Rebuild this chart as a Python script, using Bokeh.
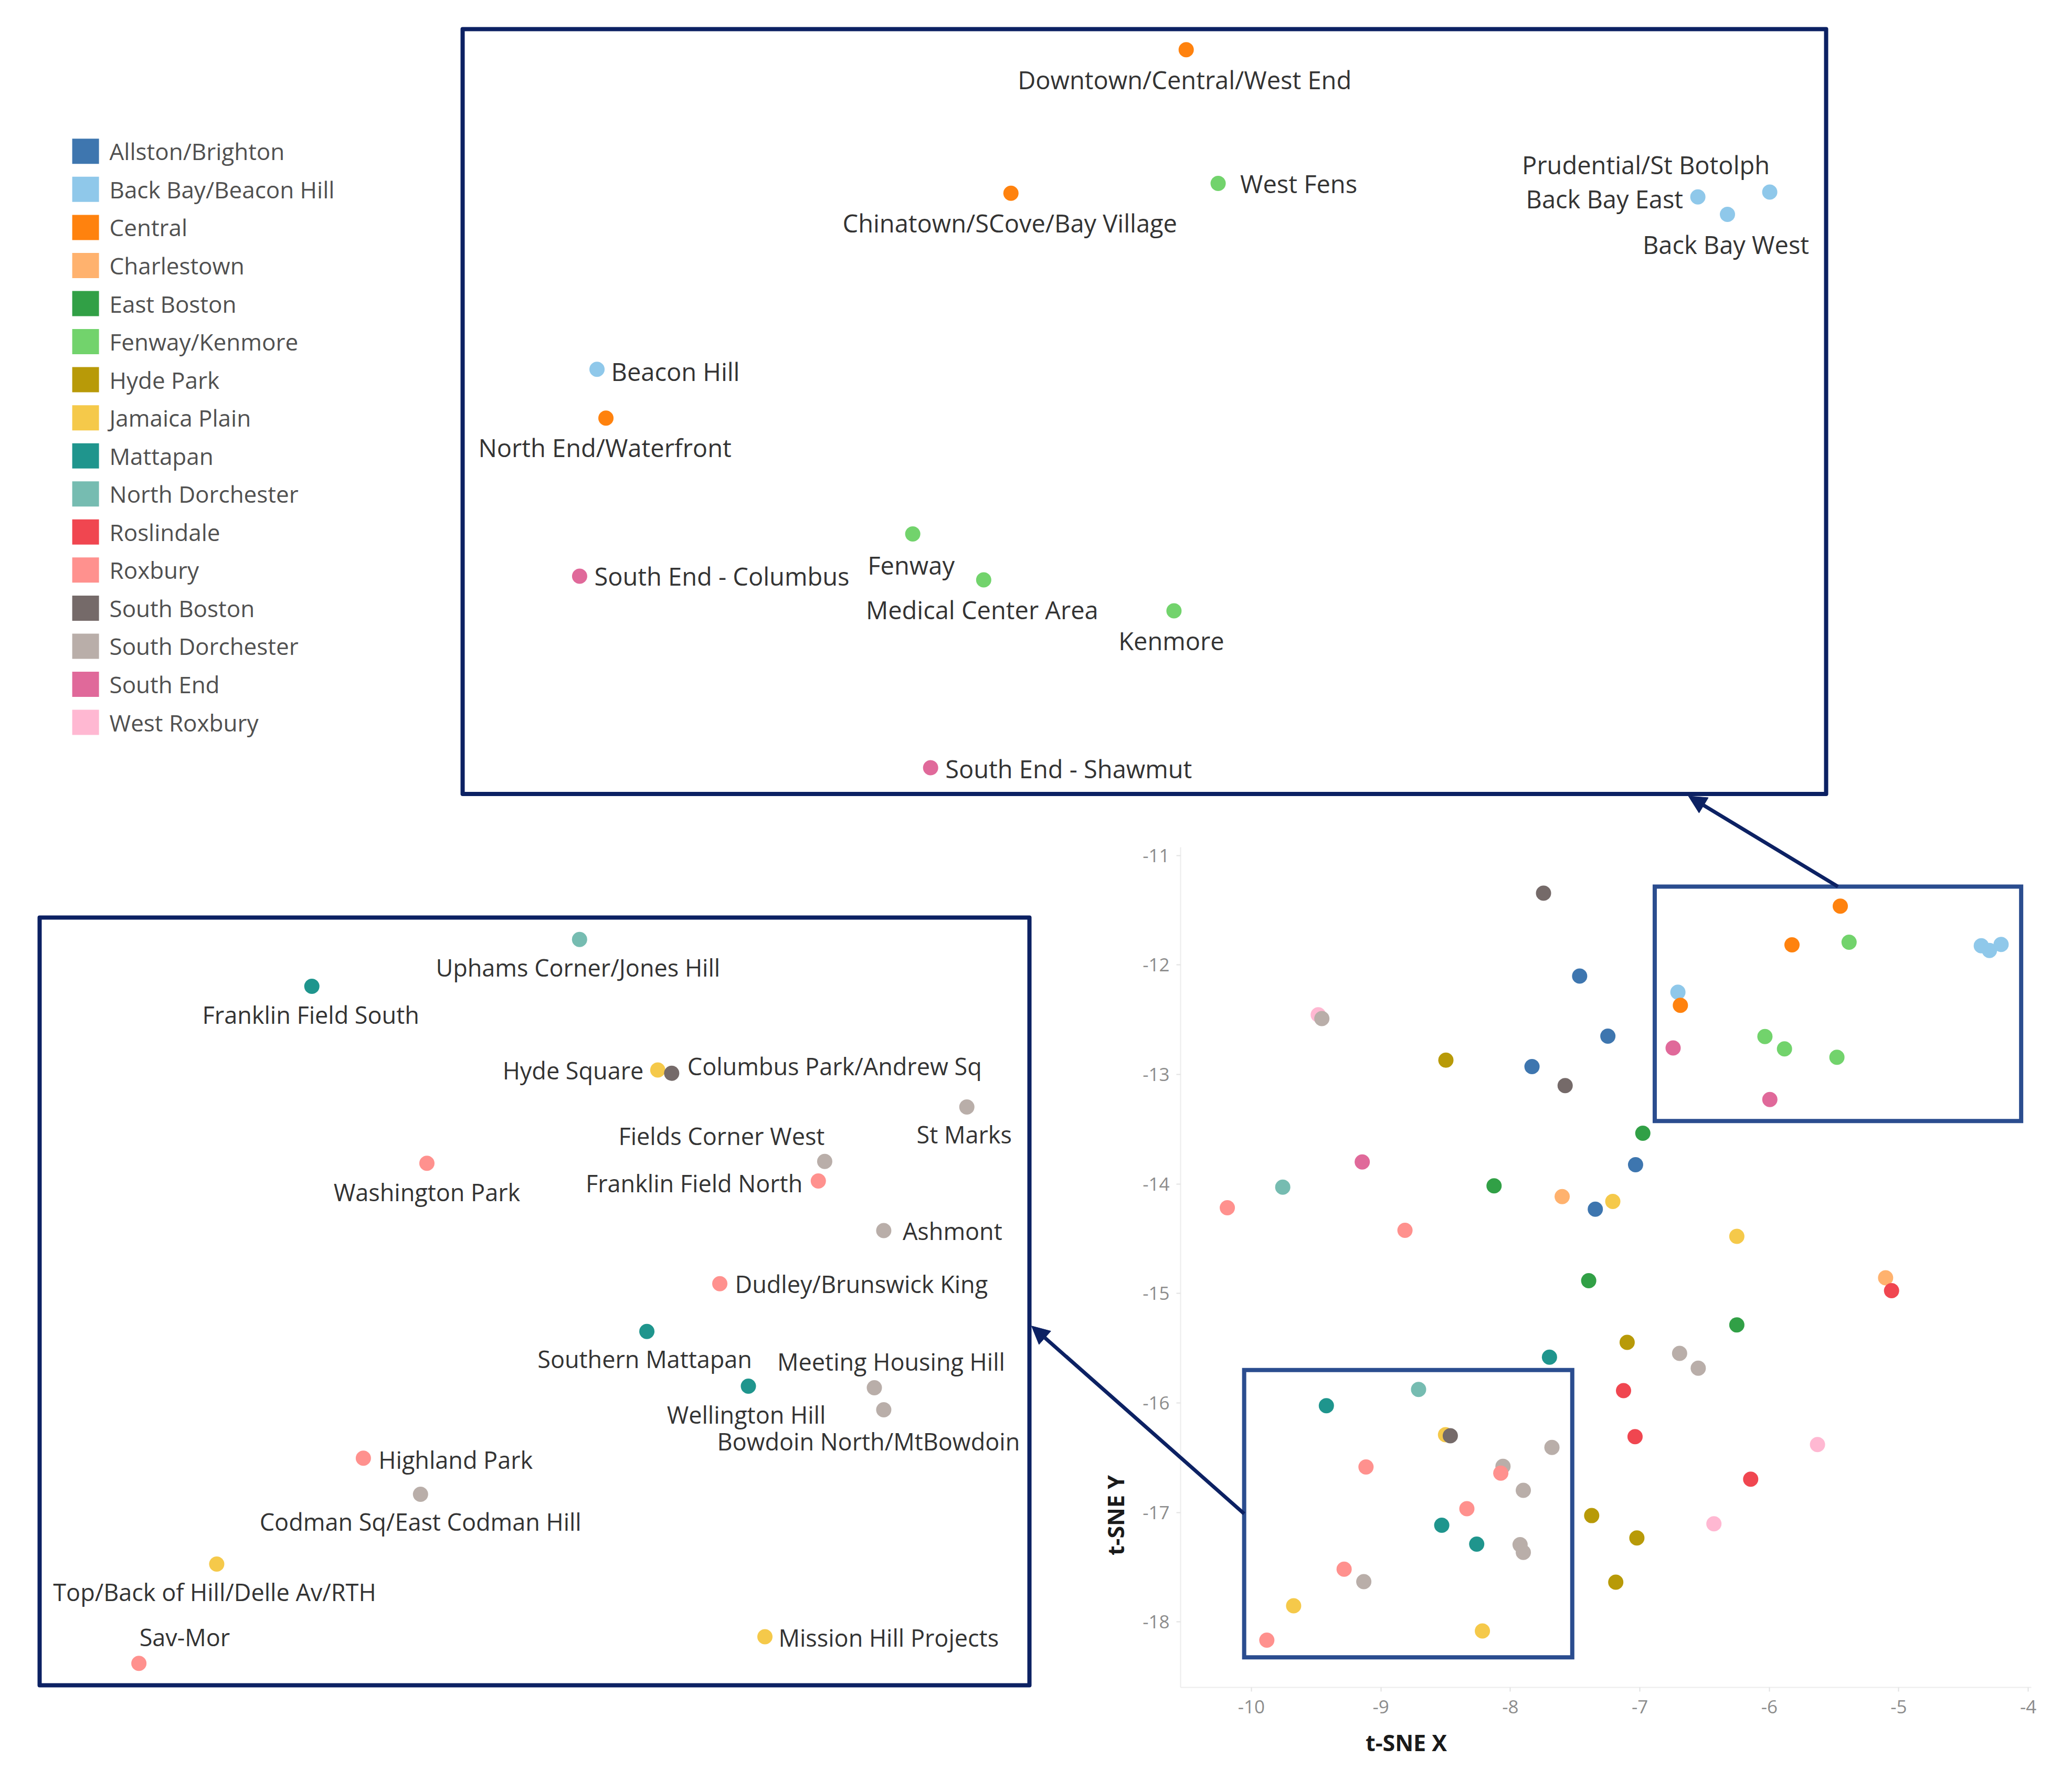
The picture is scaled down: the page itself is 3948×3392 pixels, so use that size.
import math
from bokeh.plotting import figure
from bokeh.models import (ColumnDataSource, Range1d, LinearAxis, FixedTicker,
                          Label, Arrow, NormalHead)
from bokeh.core.properties import value
from bokeh.embed import file_html
from bokeh.resources import INLINE

# ---------------- data ----------------
NEIGHBORHOODS = ["Allston/Brighton", "Back Bay/Beacon Hill", "Central", "Charlestown",
                 "East Boston", "Fenway/Kenmore", "Hyde Park", "Jamaica Plain", "Mattapan",
                 "North Dorchester", "Roslindale", "Roxbury", "South Boston",
                 "South Dorchester", "South End", "West Roxbury"]
PALETTE = ["#3e76af", "#8fc8ea", "#ff820e", "#ffb26e", "#31a046", "#72d36c", "#b89a08",
           "#f5c94a", "#1f958d", "#76bcb1", "#f04650", "#ff918e", "#756a69", "#b9aea9",
           "#e0699a", "#ffb8d2"]

PT_AREA = [
    "South Boston", "Central", "Central", "Fenway/Kenmore", "Back Bay/Beacon Hill",
    "Back Bay/Beacon Hill", "Back Bay/Beacon Hill", "Allston/Brighton", "Back Bay/Beacon Hill", "Central",
    "West Roxbury", "South Dorchester", "Allston/Brighton", "Fenway/Kenmore", "South End",
    "Fenway/Kenmore", "Hyde Park", "Allston/Brighton", "Fenway/Kenmore", "South Boston",
    "South End", "East Boston", "South End", "Allston/Brighton", "North Dorchester",
    "East Boston", "Roxbury", "Charlestown", "Jamaica Plain", "Allston/Brighton",
    "Roxbury", "Jamaica Plain", "East Boston", "Charlestown", "Roslindale",
    "East Boston", "Hyde Park", "South Dorchester", "South Dorchester", "Mattapan",
    "Roslindale", "North Dorchester", "Mattapan", "Roslindale", "Jamaica Plain",
    "South Boston", "West Roxbury", "South Dorchester", "Roxbury", "South Dorchester",
    "Roxbury", "Roslindale", "South Dorchester", "Roxbury", "Hyde Park",
    "Mattapan", "West Roxbury", "Hyde Park", "Mattapan", "South Dorchester",
    "South Dorchester", "Roxbury", "South Dorchester", "Hyde Park", "Jamaica Plain",
    "Jamaica Plain", "Roxbury"]

PT_X = [-7.744, -5.452, -5.825, -5.384, -4.363, -4.300, -4.210, -7.465, -6.706, -6.687,
        -9.484, -9.456, -7.247, -6.034, -6.743, -5.883, -8.498, -7.833, -5.478, -7.577,
        -5.996, -6.977, -9.144, -7.033, -9.758, -8.126, -10.186, -7.600, -7.209, -7.344,
        -8.814, -6.251, -7.395, -5.102, -5.056, -6.251, -7.098, -6.693, -6.549, -7.698,
        -7.126, -8.709, -9.421, -7.037, -8.501, -8.464, -5.628, -7.679, -9.115, -8.057,
        -8.074, -6.144, -7.900, -8.336, -7.372, -8.530, -6.428, -7.023, -8.260, -7.925,
        -7.900, -9.284, -9.132, -7.186, -9.674, -8.216, -9.881]

PT_Y = [-11.344, -11.463, -11.816, -11.792, -11.825, -11.868, -11.813, -12.102, -12.249, -12.369,
        -12.455, -12.490, -12.650, -12.654, -12.758, -12.767, -12.870, -12.928, -12.843, -13.102,
        -13.229, -13.537, -13.799, -13.824, -14.030, -14.017, -14.218, -14.116, -14.160, -14.231,
        -14.424, -14.479, -14.884, -14.857, -14.975, -15.288, -15.447, -15.548, -15.683, -15.582,
        -15.888, -15.877, -16.025, -16.308, -16.290, -16.300, -16.380, -16.407, -16.585, -16.579,
        -16.641, -16.697, -16.798, -16.966, -17.029, -17.117, -17.104, -17.233, -17.290, -17.295,
        -17.365, -17.518, -17.632, -17.637, -17.853, -18.083, -18.167]

PT_NAME = [
    "", "Downtown/Central/West End", "Chinatown/SCove/Bay Village", "West Fens", "Back Bay East",
    "Back Bay West", "Prudential/St Botolph", "", "Beacon Hill", "North End/Waterfront",
    "", "", "", "Fenway", "South End - Columbus",
    "Medical Center Area", "", "", "Kenmore", "",
    "South End - Shawmut", "", "", "", "",
    "", "", "", "", "",
    "", "", "", "", "",
    "", "", "", "", "",
    "", "Uphams Corner/Jones Hill", "Franklin Field South", "", "Hyde Square",
    "Columbus Park/Andrew Sq", "", "St Marks", "Washington Park", "Fields Corner West",
    "Franklin Field North", "", "Ashmont", "Dudley/Brunswick King", "",
    "Southern Mattapan", "", "", "Wellington Hill", "Meeting Housing Hill",
    "Bowdoin North/MtBowdoin", "Highland Park", "Codman Sq/East Codman Hill", "", "Top/Back of Hill/Delle Av/RTH",
    "Mission Hill Projects", "Sav-Mor"]

X_TICKS = [-10, -9, -8, -7, -6, -5, -4]
Y_TICKS = [-18, -17, -16, -15, -14, -13, -12, -11]
X_TITLE = "t-SNE X"
Y_TITLE = "t-SNE Y"

# ---------------- layout / style ----------------
PAGE_W, PAGE_H, ORIGIN = 3930, 3376, 0
NAVY = "#0c2163"
ZOOM_BLUE = "#2b4d8f"
FONT = "Open Sans"

# boxes in page pixels (left, top, right, bottom); views in data (left, right, bottom, top)
MAIN_BOX = (2249, 1614, 3870, 3215)
MAIN_VIEW = (-10.547, -3.9765, -18.598, -10.925)
TOP_BOX = (881, 55, 3479, 1512.5)
TOP_VIEW = (-6.992, -4.090, -13.2935, -11.4124)
BOT_BOX = (75, 1748, 1961, 3211)
BOT_VIEW = (-10.145, -7.5125, -18.2365, -15.8075)

ZOOM_TOP = (-6.885, -4.055, -13.425, -11.284)
ZOOM_BOT = (-10.056, -7.522, -18.324, -15.700)

LABEL_PLACE = {
    "Downtown/Central/West End": ("center", -3, 57),
    "Chinatown/SCove/Bay Village": ("center", -2, 57),
    "West Fens": ("left", 42, 0),
    "Prudential/St Botolph": ("right", 0, -52),
    "Back Bay East": ("right", -28, 4),
    "Back Bay West": ("center", -3, 57),
    "Beacon Hill": ("left", 27, 4),
    "North End/Waterfront": ("center", -2, 56),
    "Fenway": ("center", -3, 59),
    "South End - Columbus": ("left", 28, 0),
    "Medical Center Area": ("center", -3, 57),
    "Kenmore": ("center", -5, 57),
    "South End - Shawmut": ("left", 28, 2),
    "Uphams Corner/Jones Hill": ("center", -3, 53),
    "Franklin Field South": ("center", -2, 54),
    "Hyde Square": ("right", -27, 0),
    "Columbus Park/Andrew Sq": ("left", 30, -14),
    "St Marks": ("center", -5, 52),
    "Fields Corner West": ("right", 0, -49),
    "Franklin Field North": ("right", -30, 4),
    "Washington Park": ("center", 0, 55),
    "Ashmont": ("left", 36, 0),
    "Dudley/Brunswick King": ("left", 29, 0),
    "Southern Mattapan": ("center", -4, 52),
    "Meeting Housing Hill": ("center", 32, -50),
    "Wellington Hill": ("center", -4, 54),
    "Bowdoin North/MtBowdoin": ("center", -29, 60),
    "Highland Park": ("left", 29, 3),
    "Codman Sq/East Codman Hill": ("center", 0, 52),
    "Top/Back of Hill/Delle Av/RTH": ("center", -4, 53),
    "Sav-Mor": ("left", 1, -50),
    "Mission Hill Projects": ("left", 26, 1),
}

COLOR_OF = dict(zip(NEIGHBORHOODS, PALETTE))


def scales(box, view):
    bl, bt, br, bb = box
    vl, vr, vb, vt = view
    kx = (br - bl) / (vr - vl)
    ky = (bb - bt) / (vt - vb)
    return bl, bt, vl, vt, kx, ky


def make_ranges(box, view):
    bl, bt, vl, vt, kx, ky = scales(box, view)
    xr = Range1d(vl + (ORIGIN - bl) / kx, vl + (ORIGIN + PAGE_W - bl) / kx)
    yr = Range1d(vt - (ORIGIN + PAGE_H - bt) / ky, vt - (ORIGIN - bt) / ky)
    return xr, yr


def to_page(box, view, x, y):
    bl, bt, vl, vt, kx, ky = scales(box, view)
    return bl + (x - vl) * kx, bt + (vt - y) * ky


p = figure(width=PAGE_W, height=PAGE_H,
           x_range=Range1d(ORIGIN, ORIGIN + PAGE_W), y_range=Range1d(ORIGIN + PAGE_H, ORIGIN),
           x_axis_type=None, y_axis_type=None, toolbar_location=None,
           output_backend="svg", min_border=0, outline_line_color=None,
           background_fill_color="white", border_fill_color="white")

mxr, myr = make_ranges(MAIN_BOX, MAIN_VIEW)
txr, tyr = make_ranges(TOP_BOX, TOP_VIEW)
bxr, byr = make_ranges(BOT_BOX, BOT_VIEW)
p.extra_x_ranges = {"mx": mxr, "tx": txr, "bx": bxr}
p.extra_y_ranges = {"my": myr, "ty": tyr, "by": byr}

# ---------------- main scatter axes ----------------
xaxis = LinearAxis(x_range_name="mx", y_range_name="my",
                   fixed_location=MAIN_VIEW[2], bounds=(MAIN_VIEW[0], MAIN_VIEW[1]),
                   ticker=FixedTicker(ticks=X_TICKS, minor_ticks=[]),
                   major_label_overrides={t: str(t) for t in X_TICKS})
yaxis = LinearAxis(x_range_name="mx", y_range_name="my",
                   fixed_location=MAIN_VIEW[0], bounds=(MAIN_VIEW[2], MAIN_VIEW[3]),
                   ticker=FixedTicker(ticks=Y_TICKS, minor_ticks=[]),
                   major_label_overrides={t: str(t) for t in Y_TICKS})
for ax, standoff in ((xaxis, 16), (yaxis, 13)):
    ax.axis_line_color = "#ececec"
    ax.axis_line_width = 2
    ax.major_tick_line_color = "#e2e2e2"
    ax.major_tick_line_width = 2
    ax.major_tick_in = 0
    ax.major_tick_out = 8
    ax.minor_tick_line_color = None
    ax.major_label_text_font = FONT
    ax.major_label_text_font_size = "35px"
    ax.major_label_text_color = "#8c8c8c"
    ax.major_label_standoff = standoff
p.add_layout(xaxis, "below")
p.add_layout(yaxis, "left")

p.add_layout(Label(x=2679, y=3320, text=X_TITLE, text_align="center", text_baseline="middle",
                   text_font=FONT, text_font_size="43px", text_font_style="bold",
                   text_color="#1a1a1a"))
p.add_layout(Label(x=2125, y=2887, text=Y_TITLE, text_align="center", text_baseline="middle",
                   angle=math.pi / 2, text_font=FONT, text_font_size="43px",
                   text_font_style="bold", text_color="#1a1a1a"))

# zoom rectangles on the main plot
for zl, zr, zb, zt in (ZOOM_TOP, ZOOM_BOT):
    p.quad(left=[zl], right=[zr], bottom=[zb], top=[zt], fill_color=None,
           line_color=ZOOM_BLUE, line_width=8, line_join="miter",
           x_range_name="mx", y_range_name="my")

main_src = ColumnDataSource(dict(x=PT_X, y=PT_Y, area=PT_AREA,
                                 color=[COLOR_OF[a] for a in PT_AREA]))
p.scatter("x", "y", source=main_src, size=29, fill_color="color", line_color=None,
          x_range_name="mx", y_range_name="my")


# ---------------- insets ----------------
def draw_inset(view, xn, yn, font_size):
    vl, vr, vb, vt = view
    p.quad(left=[vl], right=[vr], bottom=[vb], top=[vt], fill_color="white",
           line_color=NAVY, line_width=8, line_join="round",
           x_range_name=xn, y_range_name=yn)
    idx = [i for i in range(len(PT_X))
           if PT_NAME[i] and vl < PT_X[i] < vr and vb < PT_Y[i] < vt]
    src = ColumnDataSource(dict(x=[PT_X[i] for i in idx], y=[PT_Y[i] for i in idx],
                                color=[COLOR_OF[PT_AREA[i]] for i in idx]))
    p.scatter("x", "y", source=src, size=29, fill_color="color", line_color=None,
              x_range_name=xn, y_range_name=yn)
    for align in ("left", "center", "right"):
        sel = [i for i in idx if LABEL_PLACE[PT_NAME[i]][0] == align]
        if not sel:
            continue
        lsrc = ColumnDataSource(dict(
            x=[PT_X[i] for i in sel], y=[PT_Y[i] for i in sel],
            text=[PT_NAME[i] for i in sel],
            dx=[LABEL_PLACE[PT_NAME[i]][1] for i in sel],
            dy=[LABEL_PLACE[PT_NAME[i]][2] for i in sel]))
        p.text("x", "y", text="text", source=lsrc, x_offset="dx", y_offset="dy",
               text_align=align, text_baseline="middle", text_font=value(FONT),
               text_font_size=font_size, text_color="#333333",
               x_range_name=xn, y_range_name=yn)


draw_inset(TOP_VIEW, "tx", "ty", "47px")
draw_inset(BOT_VIEW, "bx", "by", "45px")

# ---------------- arrows ----------------
zl, zr, zb, zt = ZOOM_TOP
sx, sy = to_page(MAIN_BOX, MAIN_VIEW, (zl + zr) / 2, zt)
ex = TOP_BOX[0] + 0.899 * (TOP_BOX[2] - TOP_BOX[0])
ey = TOP_BOX[3] + 4
p.add_layout(Arrow(end=NormalHead(size=34, fill_color=NAVY, line_color=NAVY),
                   x_start=sx, y_start=sy, x_end=ex, y_end=ey,
                   line_color=NAVY, line_width=7))
zl, zr, zb, zt = ZOOM_BOT
sx, sy = to_page(MAIN_BOX, MAIN_VIEW, zl, (zb + zt) / 2)
ex = BOT_BOX[2] + 4
ey = BOT_BOX[1] + 0.532 * (BOT_BOX[3] - BOT_BOX[1])
p.add_layout(Arrow(end=NormalHead(size=34, fill_color=NAVY, line_color=NAVY),
                   x_start=sx, y_start=sy, x_end=ex, y_end=ey,
                   line_color=NAVY, line_width=7))

# ---------------- legend ----------------
LEG_X, LEG_Y0, LEG_DY, LEG_TEXT_X = 162.6, 287.8, 72.55, 208
leg_src = ColumnDataSource(dict(
    x=[LEG_X] * len(NEIGHBORHOODS),
    tx=[LEG_TEXT_X] * len(NEIGHBORHOODS),
    y=[LEG_Y0 + LEG_DY * i for i in range(len(NEIGHBORHOODS))],
    name=NEIGHBORHOODS, color=PALETTE))
p.rect("x", "y", width=51, height=48, width_units="screen", height_units="screen",
       source=leg_src, fill_color="color", line_color=None)
p.text("tx", "y", text="name", source=leg_src, text_align="left", text_baseline="middle",
       text_font=value(FONT), text_font_size="44px", text_color="#505050")

open("out.html", "w").write(file_html(p, INLINE))
